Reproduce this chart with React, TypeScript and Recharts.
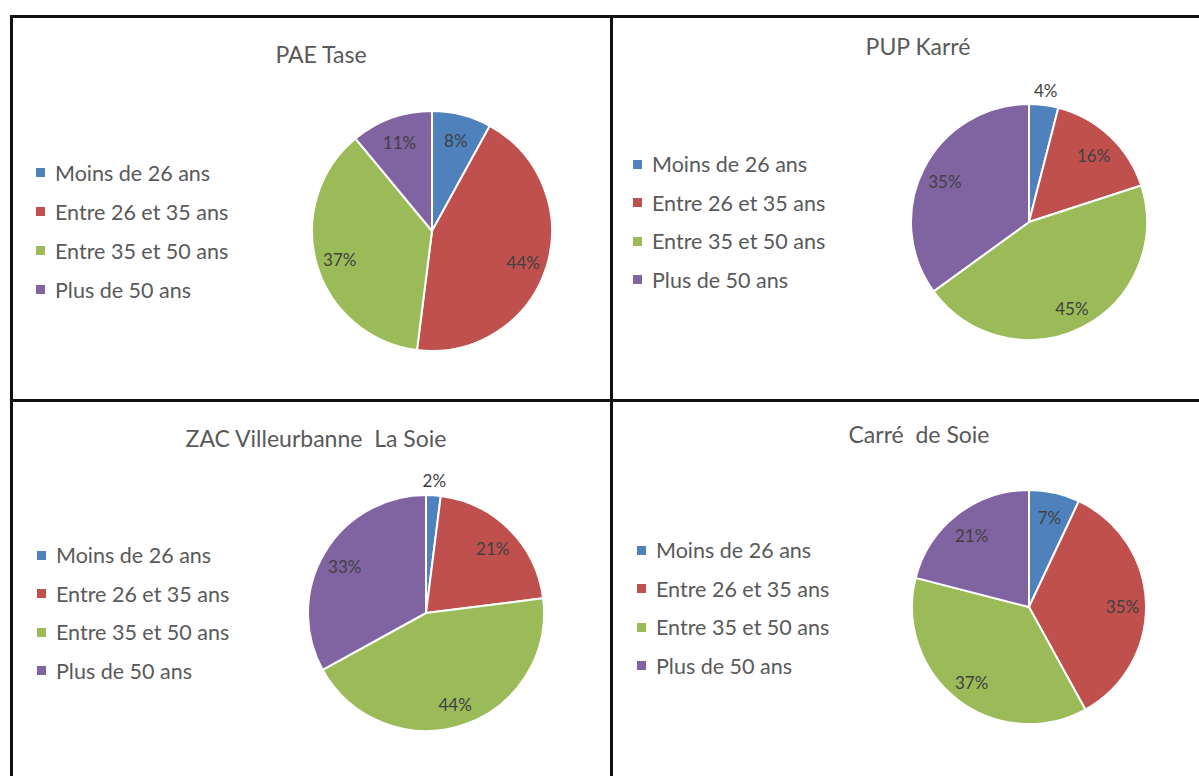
import React from "react";
import { PieChart, Pie, Cell, Legend } from "recharts";

const categories = ["Moins de 26 ans", "Entre 26 et 35 ans", "Entre 35 et 50 ans", "Plus de 50 ans"];
const colors = ["#4F81BD", "#C0504D", "#9BBB59", "#8064A2"];

const titles = ["PAE Tase", "PUP Karré", "ZAC Villeurbanne  La Soie", "Carré  de Soie"];
const paeTase = [8, 44, 37, 11];
const pupKarre = [4, 16, 45, 35];
const zacVilleurbanne = [2, 21, 44, 33];
const carreDeSoie = [7, 35, 37, 21];

const FONT = "Lato, 'Open Sans', sans-serif";
const RAD = Math.PI / 180;

type PanelCfg = {
  title: string;
  values: number[];
  left: number;
  top: number;
  width: number;
  height: number;
  cx: number;
  cy: number;
  r: number;
  titleX: number;
  titleY: number;
  legendX: number;
  legendY: number;
  legendGap: number;
};

const panels: PanelCfg[] = [
  { title: titles[0], values: paeTase, left: 12, top: 17, width: 598, height: 382, cx: 420, cy: 214, r: 120, titleX: 309, titleY: 37, legendX: 24, legendY: 136, legendGap: 39 },
  { title: titles[1], values: pupKarre, left: 612, top: 17, width: 587, height: 382, cx: 417, cy: 205, r: 118, titleX: 306, titleY: 29, legendX: 21, legendY: 128, legendGap: 38.5 },
  { title: titles[2], values: zacVilleurbanne, left: 12, top: 401, width: 598, height: 375, cx: 414, cy: 212, r: 118, titleX: 304, titleY: 37, legendX: 25, legendY: 135, legendGap: 38.5 },
  { title: titles[3], values: carreDeSoie, left: 612, top: 401, width: 587, height: 375, cx: 417, cy: 206, r: 117, titleX: 307, titleY: 33, legendX: 25, legendY: 130, legendGap: 38.5 },
];

const makeLabel = (cx0: number, cy0: number) => (props: any) => {
  const { midAngle, outerRadius, value } = props;
  const outside = value < 5;
  const rr = outside ? outerRadius + 15 : outerRadius * 0.8;
  const x = cx0 + rr * Math.cos(-midAngle * RAD);
  const y = cy0 + rr * Math.sin(-midAngle * RAD) + (outside ? 0 : 2);
  return (
    <text x={x} y={y} fill="#404040" fontSize={17} fontFamily={FONT} textAnchor="middle" dominantBaseline="central">
      {value}%
    </text>
  );
};

function Panel({ cfg }: { cfg: PanelCfg }) {
  const data = categories.map((name, i) => ({ name, value: cfg.values[i] }));
  const legendContent = () => (
    <div style={{ fontFamily: FONT }}>
      {categories.map((c, i) => (
        <div key={c} style={{ display: "flex", alignItems: "center", height: cfg.legendGap }}>
          <div style={{ width: 9, height: 9, background: colors[i], marginRight: 10 }} />
          <span style={{ fontSize: 21.5, color: "#595959", whiteSpace: "nowrap" }}>{c}</span>
        </div>
      ))}
    </div>
  );
  return (
    <div style={{ position: "absolute", left: cfg.left, top: cfg.top, width: cfg.width, height: cfg.height }}>
      <PieChart width={cfg.width} height={cfg.height} margin={{ top: 0, right: 0, bottom: 0, left: 0 }}>
        <text
          x={cfg.titleX}
          y={cfg.titleY}
          textAnchor="middle"
          dominantBaseline="central"
          fontFamily={FONT}
          fontSize={23}
          fill="#595959"
          style={{ whiteSpace: "pre" }}
        >
          {cfg.title}
        </text>
        <Pie
          data={data}
          dataKey="value"
          nameKey="name"
          cx={cfg.cx}
          cy={cfg.cy}
          outerRadius={cfg.r}
          startAngle={90}
          endAngle={-270}
          stroke="#ffffff"
          strokeWidth={2}
          isAnimationActive={false}
          label={makeLabel(cfg.cx, cfg.cy)}
          labelLine={false}
        >
          {data.map((d, i) => (
            <Cell key={d.name} fill={colors[i]} />
          ))}
        </Pie>
        <Legend
          layout="vertical"
          content={legendContent}
          wrapperStyle={{ position: "absolute", left: cfg.legendX, top: cfg.legendY, width: 270 }}
        />
      </PieChart>
    </div>
  );
}

export default function App() {
  const line = "#111111";
  return (
    <div style={{ position: "absolute", left: 0, top: 0, width: 1199, height: 776, background: "#ffffff", overflow: "hidden" }}>
      {panels.map((p) => (
        <Panel key={p.title} cfg={p} />
      ))}
      <div style={{ position: "absolute", left: 10, top: 15, width: 1189, height: 2.5, background: line }} />
      <div style={{ position: "absolute", left: 10, top: 15, width: 2.5, height: 761, background: line }} />
      <div style={{ position: "absolute", left: 610, top: 15, width: 2.5, height: 761, background: line }} />
      <div style={{ position: "absolute", left: 10, top: 399, width: 1189, height: 2.5, background: line }} />
    </div>
  );
}
